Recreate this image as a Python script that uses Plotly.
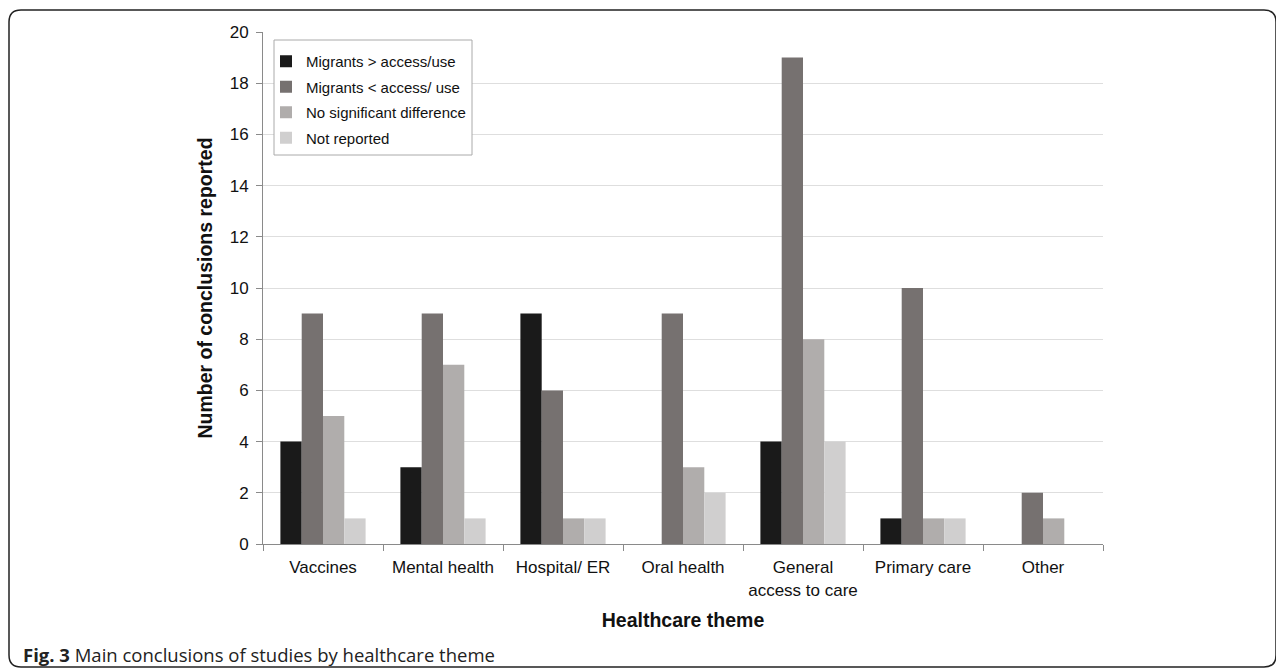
import plotly.graph_objects as go

categories = ["Vaccines", "Mental health", "Hospital/ ER", "Oral health",
              "General<br>access to care", "Primary care", "Other"]
series_names = ["Migrants > access/use", "Migrants < access/ use",
                "No significant difference", "Not reported"]
migrants_more = [4, 3, 9, 0, 4, 1, 0]
migrants_less = [9, 9, 6, 9, 19, 10, 2]
no_difference = [5, 7, 1, 3, 8, 1, 1]
not_reported = [1, 1, 1, 2, 4, 1, 0]
y_ticks = [0, 2, 4, 6, 8, 10, 12, 14, 16, 18, 20]

colors = ["#1a1a1a", "#767170", "#b0adac", "#d0cfcf"]
values = [migrants_more, migrants_less, no_difference, not_reported]

OFF = 8  # page body margin
W, H = 1284 - OFF, 672 - OFF
L, R, T, B = 263 - OFF, 1103 - OFF, 32 - OFF, 544 - OFF

fig = go.Figure()
for i, (name, vals, c) in enumerate(zip(series_names, values, colors)):
    fig.add_trace(go.Bar(x=categories, y=vals, name=name, legendgroup=f"g{i}",
                         marker=dict(color=c, line=dict(width=0))))

def px2x(px):
    return (px - OFF - L) / (R - L)

def px2y(py):
    return (B - (py - OFF)) / (B - T)

# rounded outer frame (page coordinates)
x0, x1, y0, y1 = 9, 1276, 10, 667
r = 12
path = (f"M {px2x(x0 + r)} {px2y(y0)} L {px2x(x1 - r)} {px2y(y0)} "
        f"Q {px2x(x1)} {px2y(y0)} {px2x(x1)} {px2y(y0 + r)} "
        f"L {px2x(x1)} {px2y(y1 - r)} "
        f"Q {px2x(x1)} {px2y(y1)} {px2x(x1 - r)} {px2y(y1)} "
        f"L {px2x(x0 + r)} {px2y(y1)} "
        f"Q {px2x(x0)} {px2y(y1)} {px2x(x0)} {px2y(y1 - r)} "
        f"L {px2x(x0)} {px2y(y0 + r)} "
        f"Q {px2x(x0)} {px2y(y0)} {px2x(x0 + r)} {px2y(y0)} Z")
fig.add_shape(type="path", path=path, xref="paper", yref="paper",
              line=dict(color="#222222", width=1.5))

# legend box
fig.add_shape(type="rect", xref="paper", yref="paper", layer="above",
              x0=px2x(274), x1=px2x(472), y0=px2y(40), y1=px2y(155),
              fillcolor="white", line=dict(color="#aaaaaa", width=1))

fig.add_annotation(x=px2x(21), y=px2y(654), xref="paper", yref="paper",
                   text="<b>Fig. 3</b> Main conclusions of studies by healthcare theme",
                   showarrow=False, xanchor="left", yanchor="middle",
                   font=dict(family="Open Sans", size=18.5, color="#222222"))

fig.update_layout(
    width=W, height=H,
    margin=dict(l=L, r=W - R, t=T, b=H - B),
    paper_bgcolor="white", plot_bgcolor="white",
    barmode="group", bargap=0.29, bargroupgap=0,
    font=dict(family="Liberation Sans, Arial", size=17, color="#111111"),
    legend=dict(x=px2x(266), y=px2y(45), xanchor="left", yanchor="top",
                borderwidth=0, bgcolor="rgba(0,0,0,0)",
                font=dict(size=15), traceorder="grouped", tracegroupgap=3,
                itemwidth=30),
    xaxis=dict(title=dict(text="<b>Healthcare theme</b>", font=dict(size=19.5), standoff=14),
               showline=True, linecolor="#8a8a8a", linewidth=1,
               ticks="outside", tickson="boundaries", ticklen=6, tickcolor="#8a8a8a",
               ticklabelstandoff=8, tickfont=dict(size=17)),
    yaxis=dict(title=dict(text="<b>Number of conclusions reported</b>", font=dict(size=19.5), standoff=11),
               range=[0, 20], tickvals=y_ticks, showline=True, linecolor="#8a8a8a",
               linewidth=1, ticks="outside", ticklen=6, tickcolor="#8a8a8a",
               ticklabelstandoff=4,
               showgrid=True, gridcolor="#dedede", gridwidth=1, zeroline=False,
               tickfont=dict(size=17)),
)

fig.write_html("out.html")
